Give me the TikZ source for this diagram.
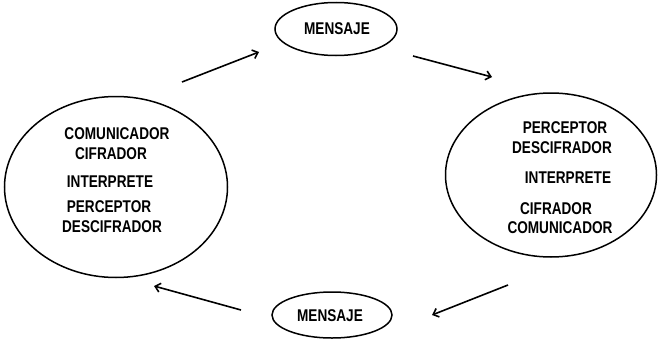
\documentclass[tikz,border=0pt]{standalone}
\usepackage{fontspec}
\setmainfont{Liberation Sans}[FakeStretch=0.8]
\usetikzlibrary{arrows.meta,shapes.geometric}
\tikzset{
  bubble/.style={draw, ellipse, line width=1.5pt, inner sep=0pt},
  lbl/.style={font=\bfseries\fontsize{17}{18}\selectfont, inner sep=0pt},
  flow/.style={line width=1.6pt, -{Straight Barb[length=5pt,width=9pt]}}
}
\begin{document}
\begin{tikzpicture}[x=1pt,y=-1pt]
\useasboundingbox (0,0) rectangle (658,340);
% ellipses
\node[bubble, minimum width=122pt, minimum height=53pt] (mtop) at (336,29) {};
\node[bubble, minimum width=120pt, minimum height=46pt] (mbot) at (332,315) {};
\node[bubble, minimum width=223pt, minimum height=181pt] (left) at (116,187) {};
\node[bubble, minimum width=211pt, minimum height=164pt] (right) at (551,175) {};
% labels
\node[lbl] (mtopt) at (337,29) {MENSAJE};
\node[lbl] (mbott) at (330,316) {MENSAJE};
\node[lbl] (l1) at (117,134) {COMUNICADOR};
\node[lbl] (l2) at (111,154) {CIFRADOR};
\node[lbl] (l3) at (110,182) {INTERPRETE};
\node[lbl] (l4) at (109,207) {PERCEPTOR};
\node[lbl] (l5) at (112,227) {DESCIFRADOR};
\node[lbl] (r1) at (565,128) {PERCEPTOR};
\node[lbl] (r2) at (562,148) {DESCIFRADOR};
\node[lbl] (r3) at (568,178) {INTERPRETE};
\node[lbl] (r4) at (556,209) {CIFRADOR};
\node[lbl] (r5) at (560,228) {COMUNICADOR};
% arrow ends
\coordinate (a1s) at (182,82);  \coordinate (a1e) at (259,52);
\coordinate (a2s) at (413,56);  \coordinate (a2e) at (492,77);
\coordinate (a3s) at (508,285); \coordinate (a3e) at (432,315);
\coordinate (a4s) at (241,310); \coordinate (a4e) at (154,286);
\draw[flow] (a1s) -- (a1e);
\draw[flow] (a2s) -- (a2e);
\draw[flow] (a3s) -- (a3e);
\draw[flow] (a4s) -- (a4e);
\end{tikzpicture}
\end{document}
